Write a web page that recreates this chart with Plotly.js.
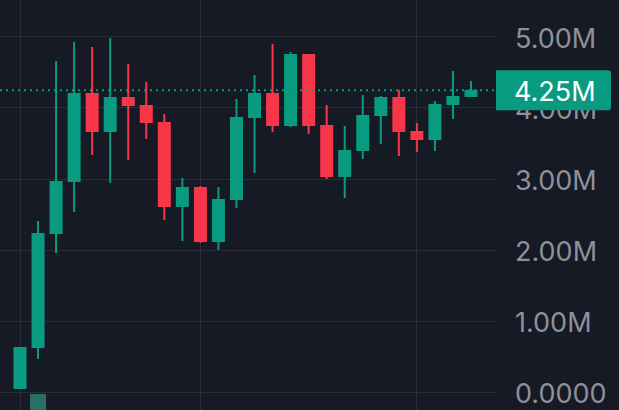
<!DOCTYPE html>
<html>
<head>
<meta charset="utf-8">
<script src="https://cdn.plot.ly/plotly-3.0.1.min.js"></script>
<style>
  html, body { margin: 0; padding: 0; background: #161a25; overflow: hidden; }
  #chart { width: 619px; height: 410px; }
</style>
</head>
<body>
<div id="chart"></div>
<script>
// values in millions
const candleIndex = [0, 1, 2, 3, 4, 5, 6, 7, 8, 9, 10, 11, 12, 13, 14, 15, 16, 17, 18, 19, 20, 21, 22, 23, 24, 25];
const opens = [0.056, 0.634, 2.239, 2.972, 4.197, 3.676, 4.141, 4.028, 3.789, 2.620, 2.873, 2.127, 2.718, 3.873, 4.197, 3.761, 4.746, 3.746, 3.042, 3.408, 3.901, 4.141, 3.662, 3.563, 4.056, 4.169];
const highs = [0.620, 2.408, 4.662, 4.930, 4.859, 4.986, 4.620, 4.366, 3.915, 3.014, 2.901, 2.887, 4.127, 4.465, 4.901, 4.789, 4.746, 4.042, 3.746, 4.183, 4.169, 4.254, 3.789, 4.099, 4.521, 4.380];
const lows = [0.056, 0.465, 1.958, 2.535, 3.338, 2.944, 3.268, 3.563, 2.423, 2.127, 2.099, 2.000, 2.592, 3.085, 3.662, 3.732, 3.634, 3.000, 2.732, 3.282, 3.493, 3.324, 3.380, 3.394, 3.845, 4.155];
const closes = [0.620, 2.225, 2.958, 4.197, 3.676, 4.141, 4.042, 3.803, 2.620, 2.873, 2.127, 2.704, 3.859, 4.197, 3.761, 4.746, 3.761, 3.042, 3.394, 3.887, 4.141, 3.676, 3.563, 4.042, 4.155, 4.239];

const volumeIndex = [1];
const volumeValues = [0.39];

const priceTicks = [0, 1, 2, 3, 4, 5];
const priceLabels = ['0.0000', '1.00M', '2.00M', '3.00M', '4.00M', '5.00M'];
const timeTicks = [0, 10, 22];
const lastPrice = 4.25;
const lastPriceLabel = '4.25M';

const GREEN = '#089b80';
const RED = '#f8364a';
const GRID = '#2a2d37';

const candles = {
  type: 'candlestick',
  x: candleIndex,
  open: opens,
  high: highs,
  low: lows,
  close: closes,
  increasing: { line: { color: GREEN, width: 2 }, fillcolor: GREEN },
  decreasing: { line: { color: RED, width: 2 }, fillcolor: RED },
  whiskerwidth: 0,
  hoverinfo: 'skip',
};

const volume = {
  type: 'bar',
  x: volumeIndex,
  y: volumeValues,
  yaxis: 'y2',
  width: 0.89,
  marker: { color: '#2b6f64', line: { width: 0 } },
  hoverinfo: 'skip',
};

const layout = {
  width: 619,
  height: 410,
  margin: { l: 0, r: 123, t: 0, b: 0, pad: 0 },
  paper_bgcolor: '#161a25',
  plot_bgcolor: '#161a25',
  showlegend: false,
  boxgap: 0.13,
  bargap: 0,
  xaxis: {
    range: [-1.109, 26.386],
    tickmode: 'array',
    tickvals: timeTicks,
    showticklabels: false,
    ticks: '',
    showgrid: true,
    gridcolor: GRID,
    gridwidth: 1,
    zeroline: false,
    showline: false,
    rangeslider: { visible: false },
  },
  yaxis: {
    range: [-0.2535, 5.521],
    side: 'right',
    tickmode: 'array',
    tickvals: priceTicks,
    ticktext: priceLabels,
    ticks: '',
    ticklabelstandoff: 18,
    ticklabelshift: 2,
    ticklabeloverflow: 'allow',
    tickfont: { family: 'Inter', size: 27, color: '#8e919a' },
    showgrid: true,
    gridcolor: GRID,
    gridwidth: 1,
    zeroline: false,
    showline: false,
  },
  yaxis2: {
    overlaying: 'y',
    range: [0, 10],
    visible: false,
  },
  shapes: [
    {
      type: 'line',
      xref: 'paper',
      yref: 'y',
      x0: 0,
      x1: 1,
      y0: lastPrice,
      y1: lastPrice,
      line: { color: GREEN, width: 2, dash: '2px,4px' },
      layer: 'above',
    },
    {
      type: 'path',
      xref: 'paper',
      yref: 'y',
      xsizemode: 'pixel',
      ysizemode: 'pixel',
      xanchor: 1,
      yanchor: lastPrice,
      path: 'M 0 -20 L 112 -20 Q 115 -20 115 -17 L 115 17 Q 115 20 112 20 L 0 20 Z',
      fillcolor: GREEN,
      line: { width: 0 },
      layer: 'above',
    },
  ],
  annotations: [
    {
      xref: 'paper',
      yref: 'y',
      x: 1,
      y: lastPrice,
      xanchor: 'left',
      yanchor: 'middle',
      xshift: 16,
      yshift: -1,
      text: lastPriceLabel,
      showarrow: false,
      font: { family: 'Inter', size: 27, color: '#ffffff' },
    },
  ],
};

Plotly.newPlot('chart', [volume, candles], layout, { displayModeBar: false, staticPlot: true });
</script>
</body>
</html>
